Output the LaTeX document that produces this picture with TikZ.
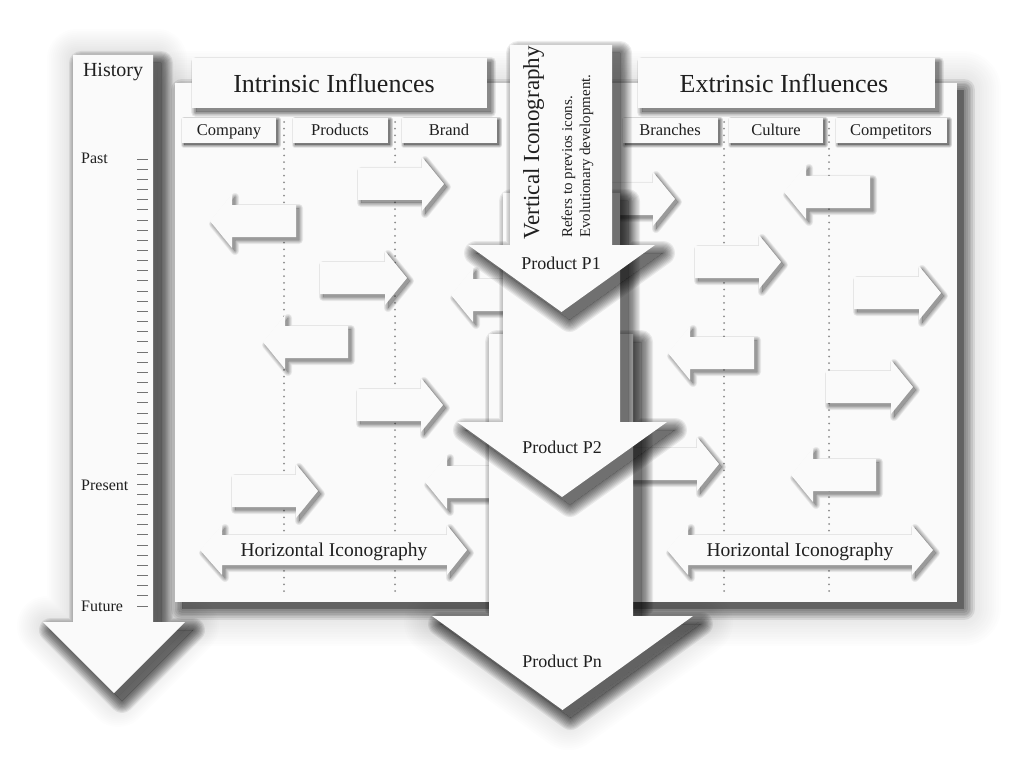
\documentclass[tikz,border=0pt]{standalone}
\usepackage{fontspec}
\setmainfont{Liberation Serif}

\newcommand\fsz[1]{\fontsize{#1}{#1}\selectfont}

\tikzset{
  paper/.style={fill=black!2},
  guide/.style={draw=black!45, line width=2pt, line cap=round,
      dash pattern=on 0pt off 6.7pt},
  tickmark/.style={draw=black!55, line width=0.9pt},
  lbl/.style={text=black!88, inner sep=0pt, anchor=base},
}

% soft shadow of a path: #1 path, #2 dx, #3 dy, #4 blur width,
% #5 opacity of each blur step, #6 number of steps, #7 core opacity
\newcommand\softshadow[7]{%
  \begin{scope}[shift={(#2,#3)}]
    \path[fill=black, fill opacity=#7] #1;
    \begin{scope}[even odd rule]
      \clip (-2000,-2000) rectangle (3000,3000) #1;
      \foreach \k in {1,...,#6}
        \path[draw=black, draw opacity=#5, line join=round,
              line width={2*#4*\k/#6}] #1;
    \end{scope}
  \end{scope}}

% outlines of the block shapes
\newcommand\rightpath[3]{(#1,#3-16) -- (#2,#3-16) -- (#2,#3-27) -- (#2+22,#3)
    -- (#2,#3+27) -- (#2,#3+16) -- (#1,#3+16) -- cycle}
\newcommand\leftpath[3]{(#1,#3-16) -- (#2,#3-16) -- (#2,#3-27) -- (#2-22,#3)
    -- (#2,#3+27) -- (#2,#3+16) -- (#1,#3+16) -- cycle}
\newcommand\bothpath[5]{(#1,#5) -- (#2,#5-25) -- (#2,#5-15) -- (#3,#5-15)
    -- (#3,#5-25) -- (#4,#5) -- (#3,#5+25) -- (#3,#5+15) -- (#2,#5+15)
    -- (#2,#5+25) -- cycle}
\newcommand\downpath[7]{(#1,#3) -- (#2,#3) -- (#2,#4) -- (#6,#4)
    -- ({(#5+#6)/2},#7) -- (#5,#4) -- (#1,#4) -- cycle}

% shaded shapes
\newcommand\rightblock[3]{%
  \softshadow{\rightpath{#1}{#2}{#3}}{3}{3}{4}{0.06}{6}{0.38}%
  \path[paper] \rightpath{#1}{#2}{#3};}
\newcommand\leftblock[3]{%
  \softshadow{\leftpath{#1}{#2}{#3}}{3}{3}{4}{0.06}{6}{0.38}%
  \path[paper] \leftpath{#1}{#2}{#3};}
\newcommand\bothblock[5]{%
  \softshadow{\bothpath{#1}{#2}{#3}{#4}{#5}}{3}{3}{4}{0.06}{6}{0.38}%
  \path[paper] \bothpath{#1}{#2}{#3}{#4}{#5};}
\newcommand\downblock[7]{%
  \softshadow{\downpath{#1}{#2}{#3}{#4}{#5}{#6}{#7}}{8}{8}{12}{0.07}{10}{0.55}%
  \path[paper] \downpath{#1}{#2}{#3}{#4}{#5}{#6}{#7};}
\newcommand\cardbox[5]{% corners, shadow offset, blur
  \softshadow{(#1) rectangle (#2)}{#3}{#3}{#4}{0.075}{6}{#5}%
  \path[paper] (#1) rectangle (#2);}

\begin{document}
\begin{tikzpicture}[x=1pt,y=-1pt]
\useasboundingbox (0,0) rectangle (1026,765);
\fill[white] (0,0) rectangle (1026,765);

% faint glow around the whole figure
\softshadow{(175,83) rectangle (957,602)}{6}{6}{38}{0.009}{16}{0.14}
\softshadow{\downpath{73}{153}{55}{622}{43}{185}{693}}{4}{4}{30}{0.009}{16}{0.14}
\softshadow{\downpath{489}{633}{334}{616}{432}{693}{710}}{6}{6}{34}{0.009}{16}{0.14}

% ---------- history arrow ----------
\downblock{73}{153}{55}{622}{43}{185}{693}
\node[lbl, font=\fsz{20}] (history) at (113,77) {History};
\foreach \i in {0,...,44}
  \draw[tickmark] (137,{159+\i*10.16}) -- (148,{159+\i*10.16});
\node[lbl, font=\fsz{16}, anchor=base west] (past)    at (81,164) {Past};
\node[lbl, font=\fsz{16}, anchor=base west] (present) at (81,490) {Present};
\node[lbl, font=\fsz{16}, anchor=base west] (future)  at (81,611) {Future};

% ---------- influence panel ----------
\cardbox{175,83}{957,602}{7}{11}{0.55}

% column guides
\foreach \gx in {284,395,724,829}
  \draw[guide] (\gx,122) -- (\gx,592);

% headers
\cardbox{192,58}{487,108}{4}{5}{0.45}
\node[lbl, font=\fsz{26}] (intr) at (334,93) {Intrinsic Influences};
\cardbox{638,58}{935,108}{4}{5}{0.45}
\node[lbl, font=\fsz{26}] (extr) at (784,93) {Extrinsic Influences};

% column tabs
\cardbox{182,118}{276,143}{2}{3}{0.5}
\node[lbl, font=\fsz{16.5}] (company) at (229,136) {Company};
\cardbox{293,118}{388,143}{2}{3}{0.5}
\node[lbl, font=\fsz{16.5}] (products) at (340,136) {Products};
\cardbox{402,118}{497,143}{2}{3}{0.5}
\node[lbl, font=\fsz{16.5}] (brand) at (449,136) {Brand};
\cardbox{623,118}{718,143}{2}{3}{0.5}
\node[lbl, font=\fsz{16.5}] (branches) at (670,136) {Branches};
\cardbox{729,118}{823,143}{2}{3}{0.5}
\node[lbl, font=\fsz{16.5}] (culture) at (776,136) {Culture};
\cardbox{836,118}{947,143}{2}{3}{0.5}
\node[lbl, font=\fsz{16.5}] (competitors) at (891,136) {Competitors};

% intrinsic influence arrows
\rightblock{358}{422}{184}
\leftblock{296}{232}{221}
\rightblock{320}{385}{278}
\leftblock{348}{285}{342}
\rightblock{357}{421}{405}
\leftblock{540}{473}{295}
\leftblock{540}{447}{482}
\rightblock{232}{296}{491}

% extrinsic influence arrows
\rightblock{580}{653}{199}
\leftblock{870}{806}{192}
\rightblock{695}{759}{262}
\rightblock{854}{919}{293}
\leftblock{754}{690}{353}
\rightblock{826}{891}{387}
\rightblock{600}{697}{464}
\leftblock{876}{813}{475}

% horizontal iconography
\bothblock{200}{222}{447}{467}{550}
\node[lbl, font=\fsz{19.5}] (hicon1) at (334,556) {Horizontal Iconography};
\bothblock{667}{688}{912}{933}{550}
\node[lbl, font=\fsz{19.5}] (hicon2) at (800,556) {Horizontal Iconography};

% ---------- vertical iconography (product generations) ----------
\downblock{489}{633}{334}{616}{432}{693}{710}
\node[lbl, font=\fsz{18}] (pn) at (562,667) {Product Pn};
\downblock{503}{620}{193}{422}{457}{667}{497}
\node[lbl, font=\fsz{18}] (p2) at (562,453) {Product P2};
\downblock{510}{612}{45}{245}{468}{655}{312}
\node[lbl, font=\fsz{18}] (p1) at (561,269) {Product P1};

\node[lbl, font=\fsz{23}, rotate=90, anchor=base west] (vicon) at (539,240)
  {Vertical Iconography};
\node[lbl, font=\fsz{15}, rotate=90, anchor=base west] (vref) at (572,238)
  {Refers to previos icons.};
\node[lbl, font=\fsz{15}, rotate=90, anchor=base west] (vevo) at (590,238)
  {Evolutionary development.};
\end{tikzpicture}
\end{document}
